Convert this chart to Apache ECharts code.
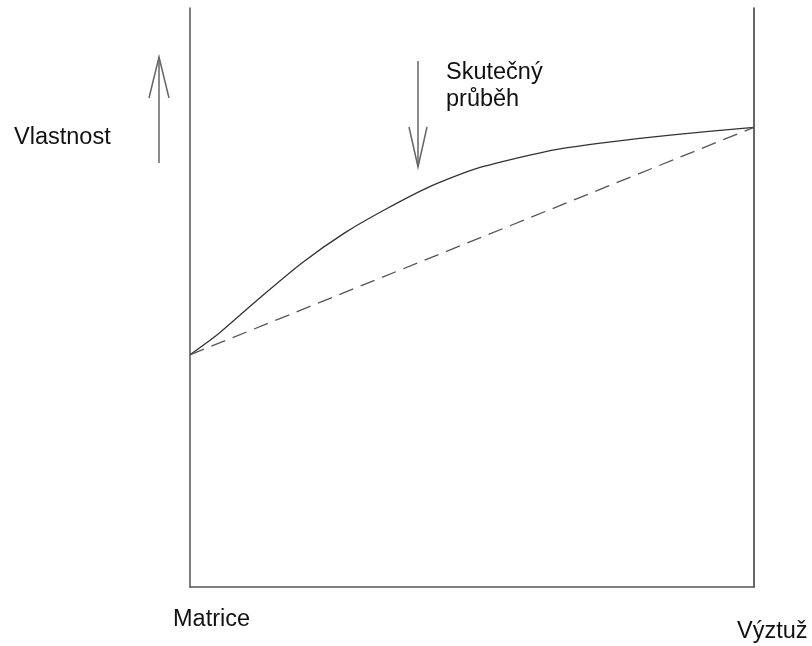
<!DOCTYPE html>
<html>
<head>
<meta charset="utf-8">
<script src="https://cdn.jsdelivr.net/npm/echarts@6/dist/echarts.min.js"></script>
<style>html,body{margin:0;padding:0;background:#fff}#c{width:812px;height:646px}</style>
</head>
<body>
<div id="c"></div>
<script>
// Data (normalized: 0 = Matrice, 1 = Výztuž)
var curveX = [0, 0.050, 0.121, 0.199, 0.275, 0.346, 0.426, 0.502, 0.585, 0.651, 0.739, 0.856, 1];
var curveY = [0.401, 0.437, 0.497, 0.560, 0.612, 0.652, 0.692, 0.721, 0.742, 0.756, 0.768, 0.781, 0.794];
var linearX = [0, 1];
var linearY = [0.401, 0.794];
var labelProperty = 'Vlastnost';
var labelReal = ['Skutečný', 'průběh'];
var labelLeft = 'Matrice';
var labelRight = 'Výztuž';

var chart = echarts.init(document.getElementById('c'), null, {renderer: 'canvas'});
var font = '"Liberation Sans", Arial, sans-serif';
var axisColor = '#555';
var arrowColor = '#666';
function zip(a, b) { return a.map(function (v, i) { return [v, b[i]]; }); }

chart.setOption({
  animation: false,
  backgroundColor: '#fff',
  grid: {left: 190, right: 58, top: 8, bottom: 59},
  xAxis: {type: 'value', min: 0, max: 1, axisLine: {show: true, lineStyle: {color: axisColor, width: 1.5}},
    axisTick: {show: false}, axisLabel: {show: false}, splitLine: {show: false}},
  yAxis: [
    {type: 'value', min: 0, max: 1, position: 'left', axisLine: {show: true, lineStyle: {color: axisColor, width: 1.5}},
      axisTick: {show: false}, axisLabel: {show: false}, splitLine: {show: false}},
    {type: 'value', min: 0, max: 1, position: 'right', axisLine: {show: true, onZero: false, lineStyle: {color: '#333', width: 1.5}},
      axisTick: {show: false}, axisLabel: {show: false}, splitLine: {show: false}}
  ],
  series: [
    {type: 'line', data: zip(curveX, curveY), symbol: 'none', smooth: 0.2,
      lineStyle: {color: '#333', width: 1.3}},
    {type: 'line', data: zip(linearX, linearY), symbol: 'none',
      lineStyle: {color: '#555', width: 1.3, type: [15, 8]}}
  ],
  graphic: [
    {type: 'polyline', shape: {points: [[159, 163], [159, 57]]}, style: {stroke: arrowColor, lineWidth: 1.5, fill: null}},
    {type: 'polyline', shape: {points: [[149, 98], [159, 57], [169, 98]]}, style: {stroke: arrowColor, lineWidth: 1.5, fill: null}},
    {type: 'polyline', shape: {points: [[418, 61], [418, 167]]}, style: {stroke: arrowColor, lineWidth: 1.5, fill: null}},
    {type: 'polyline', shape: {points: [[409, 127], [418, 167], [427, 127]]}, style: {stroke: arrowColor, lineWidth: 1.5, fill: null}},
    {type: 'text', left: 14, top: 126, style: {text: labelProperty, font: '23.5px ' + font, fill: '#111'}},
    {type: 'text', left: 446, top: 59, style: {text: labelReal.join('\n'), font: '23.5px ' + font, fill: '#111', lineHeight: 27}},
    {type: 'text', left: 173, top: 608, style: {text: labelLeft, font: '23.5px ' + font, fill: '#111'}},
    {type: 'text', left: 737, top: 620, style: {text: labelRight, font: '23.5px ' + font, fill: '#111'}}
  ]
});
</script>
</body>
</html>
